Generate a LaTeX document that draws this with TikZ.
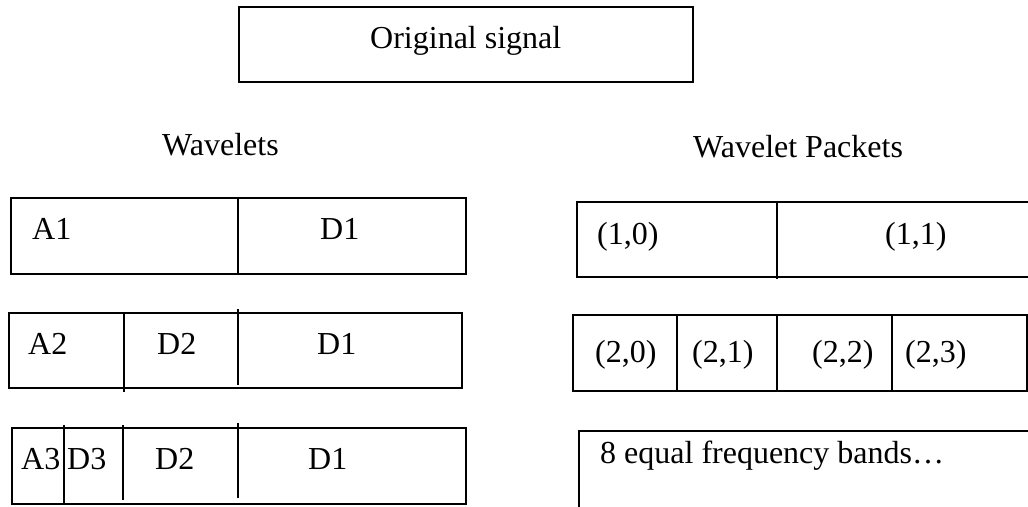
\documentclass[tikz,border=0pt]{standalone}
\usepackage{fontspec}
\setmainfont{Liberation Serif}
\begin{document}
\begin{tikzpicture}[x=1pt,y=-1pt,
  box/.style={draw,line width=1.4pt,inner sep=0pt,outer sep=0pt},
  divider/.style={line width=1.3pt},
  lbl/.style={anchor=base west,inner sep=0pt,font=\fontsize{32}{38}\selectfont}]
\useasboundingbox (0,0) rectangle (1028,506);
% top
\node[box,minimum width=454pt,minimum height=75pt] (orig) at (466,44.5) {};
\node[lbl] (origt) at (370,48) {Original signal};
\node[lbl] (wl) at (162,155) {Wavelets};
\node[lbl] (wp) at (693,157) {Wavelet Packets};
% wavelets row 1
\node[box,minimum width=455pt,minimum height=76pt] (w1) at (238.5,236) {};
\draw[divider] (238,197) -- (238,274);
\node[lbl] at (32,239) {A1};
\node[lbl] at (320,239) {D1};
% wavelets row 2
\node[box,minimum width=453pt,minimum height=75pt] (w2) at (235.5,350.5) {};
\draw[divider] (124,313) -- (124,392);
\draw[divider] (238,309) -- (238,385);
\node[lbl] at (28,354) {A2};
\node[lbl] at (157,354) {D2};
\node[lbl] at (317,354) {D1};
% wavelets row 3
\node[box,minimum width=454pt,minimum height=76pt] (w3) at (239,466) {};
\draw[divider] (64,425) -- (64,504);
\draw[divider] (123,425) -- (123,500);
\draw[divider] (238,423) -- (238,498);
\node[lbl] at (21,469) {A3};
\node[lbl] at (67,469) {D3};
\node[lbl] at (155,469) {D2};
\node[lbl] at (308,469) {D1};
% packets row 1
\node[box,minimum width=460pt,minimum height=75pt] (p1) at (807,239.5) {};
\draw[divider] (777,202) -- (777,279);
\node[lbl] at (597,244) {(1,0)};
\node[lbl] at (885,244) {(1,1)};
% packets row 2
\node[box,minimum width=454pt,minimum height=76pt] (p2) at (800,353) {};
\draw[divider] (677,314) -- (677,391);
\draw[divider] (777,314) -- (777,391);
\draw[divider] (892,314) -- (892,391);
\node[lbl] at (595,362) {(2,0)};
\node[lbl] at (692,362) {(2,1)};
\node[lbl] at (812,362) {(2,2)};
\node[lbl] at (905,362) {(2,3)};
% packets row 3
\node[box,minimum width=460pt,minimum height=80pt] (p3) at (809,471) {};
\node[lbl] at (600,463) {8 equal frequency bands…};
\end{tikzpicture}
\end{document}
